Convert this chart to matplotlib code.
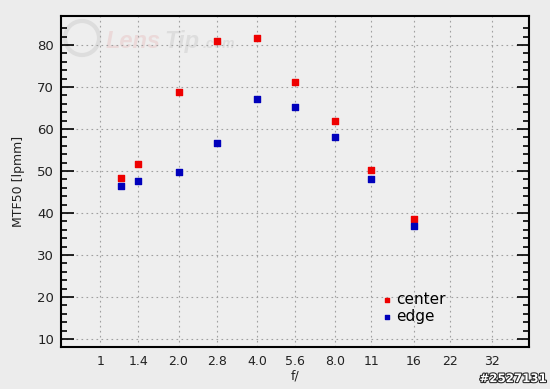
import numpy as np
import matplotlib.pyplot as plt
import matplotlib.patheffects as pe
from matplotlib.patches import Ellipse

# f-numbers and MTF50 values [lpmm]
apertures = [1.2, 1.4, 2.0, 2.8, 4.0, 5.6, 8.0, 11, 16]
center = [48.3, 51.7, 68.8, 80.9, 81.6, 71.1, 61.9, 50.2, 38.6]
edge = [46.4, 47.6, 49.8, 56.6, 67.1, 65.2, 58.1, 48.1, 36.9]

xtick_vals = [1, 1.4, 2.0, 2.8, 4.0, 5.6, 8.0, 11, 16, 22, 32]
xtick_labels = ['1', '1.4', '2.0', '2.8', '4.0', '5.6', '8.0', '11', '16', '22', '32']

bg = '#ececec'
W, H = 550, 389
fig = plt.figure(figsize=(5.5, 3.89), dpi=100, facecolor=bg)
ax = fig.add_axes([61/W, 1 - 347/H, 468/W, 331/H], facecolor='#eeeeee')

# f-stop axis: log scale (one stop = equal spacing)
ax.set_xscale('log', base=2)
ax.set_xlim(0.707, 44.4)
ax.set_ylim(8.1, 86.9)

# watermark (faint LensTip logo), kept under the data
ax.add_patch(Ellipse((82/W, 1 - 38/H), 34/W, 34/H, transform=fig.transFigure,
                     fill=False, lw=3, ec='#dddddd', zorder=0))
wm = dict(fontsize=17, style='italic', fontweight='bold', family='Liberation Sans',
          va='baseline', zorder=0, transform=fig.transFigure)
ax.text(106/W, 1 - 48/H, 'Lens', color='#ebd9d9', **wm)
ax.text(164/W, 1 - 48/H, 'Tip', color='#dddddd', **wm)
ax.text(203/W, 1 - 48/H, '.com', color='#dddddd', **{**wm, 'fontsize': 10})

ax.scatter(apertures, center, marker='s', s=14, color='#ee0000', label='center', zorder=3)
ax.scatter(apertures, edge, marker='s', s=14, color='#0000bb', label='edge', zorder=3)

ax.set_xticks(xtick_vals)
ax.set_xticklabels(xtick_labels)
ax.xaxis.set_minor_locator(plt.NullLocator())
ax.tick_params(axis='x', length=0, labelsize=9, pad=6, colors='#222222')

ax.set_yticks(np.arange(10, 81, 10))
ax.set_yticks(np.arange(12, 85, 2), minor=True)
ax.tick_params(axis='y', which='major', direction='in', length=9, width=1.2,
               left=True, right=True, labelsize=9.5, colors='black',
               labelcolor='#222222', pad=5)
ax.tick_params(axis='y', which='minor', direction='in', length=4.5, width=1.2,
               left=True, right=True)

ax.grid(True, which='major', linestyle=(0, (1.5, 3)), color='#a0a0a0', linewidth=0.8)
ax.set_axisbelow(True)
for s in ax.spines.values():
    s.set_linewidth(1.5)
    s.set_color('black')

ax.set_ylabel('MTF50 [lpmm]', fontsize=9, color='#222222', labelpad=9)
ax.set_xlabel('f/', fontsize=9, color='#222222', labelpad=1)

ax.legend(loc='lower left', bbox_to_anchor=(0.66, 0.047), frameon=False,
          fontsize=11, handletextpad=0.0, labelspacing=0.15, markerscale=0.9,
          borderpad=0, handlelength=1.2)

fig.text(0.993, 0.01, '#2527131', ha='right', va='bottom', fontsize=8.5,
         fontweight='bold', color='white',
         path_effects=[pe.withStroke(linewidth=1.5, foreground='#222222')])

fig.savefig('out.png', dpi=100, facecolor=bg)
